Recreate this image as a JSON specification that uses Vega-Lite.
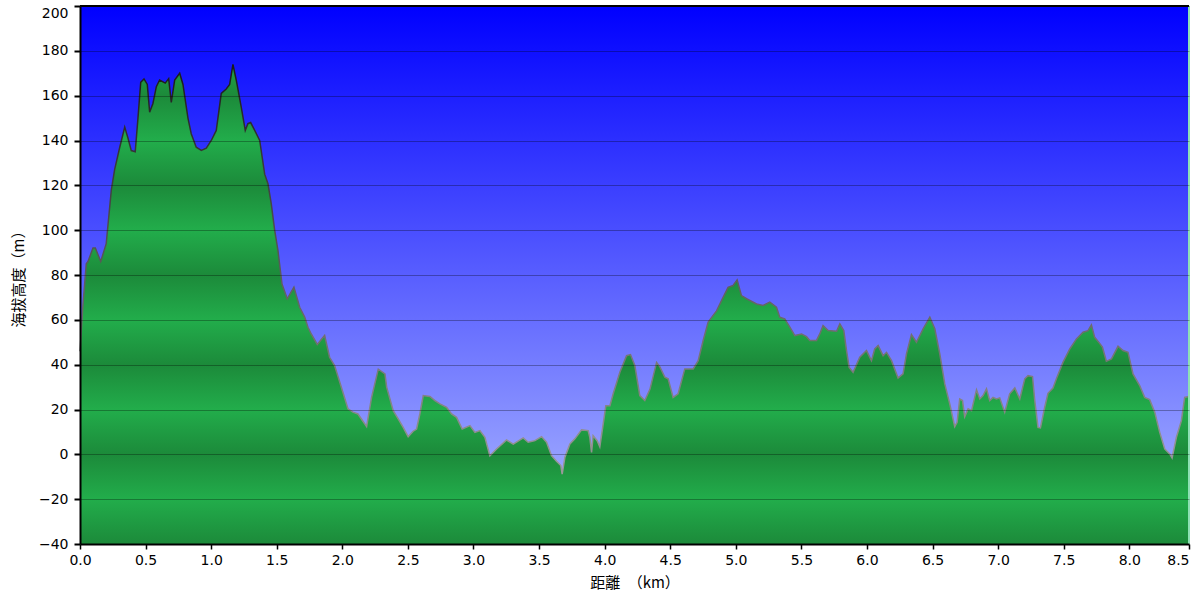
{
  "$schema": "https://vega.github.io/schema/vega-lite/v6.json",
  "width": 1109,
  "height": 538,
  "autosize": {"type": "none"},
  "padding": {"left": 80, "top": 6, "right": 6, "bottom": 57},
  "background": "#ffffff",
  "config": {"view": {"stroke": null}},
  "datasets": {
    "profile": [
      {"d": 0, "h": 46}, {"d": 0.023, "h": 67}, {"d": 0.048, "h": 85}, {"d": 0.061, "h": 86}, {"d": 0.099, "h": 92},
      {"d": 0.117, "h": 92}, {"d": 0.158, "h": 86}, {"d": 0.2, "h": 94}, {"d": 0.239, "h": 118}, {"d": 0.264, "h": 127},
      {"d": 0.303, "h": 137}, {"d": 0.341, "h": 146}, {"d": 0.366, "h": 141}, {"d": 0.391, "h": 135.5}, {"d": 0.421, "h": 135},
      {"d": 0.442, "h": 150}, {"d": 0.463, "h": 166}, {"d": 0.488, "h": 167.5}, {"d": 0.513, "h": 165}, {"d": 0.531, "h": 152.6},
      {"d": 0.556, "h": 156.5}, {"d": 0.582, "h": 164}, {"d": 0.607, "h": 167}, {"d": 0.65, "h": 165.6}, {"d": 0.676, "h": 167.6},
      {"d": 0.696, "h": 157}, {"d": 0.722, "h": 167}, {"d": 0.76, "h": 170}, {"d": 0.785, "h": 165}, {"d": 0.823, "h": 150},
      {"d": 0.848, "h": 143}, {"d": 0.886, "h": 137}, {"d": 0.925, "h": 135.6}, {"d": 0.963, "h": 136.6}, {"d": 1.001, "h": 140},
      {"d": 1.039, "h": 144.5}, {"d": 1.077, "h": 161}, {"d": 1.115, "h": 163}, {"d": 1.141, "h": 165}, {"d": 1.166, "h": 174},
      {"d": 1.191, "h": 167}, {"d": 1.229, "h": 155}, {"d": 1.26, "h": 144.5}, {"d": 1.28, "h": 147.5}, {"d": 1.301, "h": 148},
      {"d": 1.332, "h": 144.5}, {"d": 1.37, "h": 140}, {"d": 1.408, "h": 125}, {"d": 1.433, "h": 120.7}, {"d": 1.458, "h": 111.8},
      {"d": 1.484, "h": 100}, {"d": 1.509, "h": 91}, {"d": 1.54, "h": 76}, {"d": 1.58, "h": 69.4}, {"d": 1.631, "h": 74.6},
      {"d": 1.675, "h": 65.6}, {"d": 1.713, "h": 61.2}, {"d": 1.738, "h": 56.7}, {"d": 1.763, "h": 53.7}, {"d": 1.809, "h": 49},
      {"d": 1.865, "h": 53}, {"d": 1.903, "h": 43.3}, {"d": 1.941, "h": 39.6}, {"d": 1.992, "h": 30}, {"d": 2.043, "h": 20.3},
      {"d": 2.081, "h": 18.8}, {"d": 2.119, "h": 18}, {"d": 2.185, "h": 12.4}, {"d": 2.223, "h": 25.4}, {"d": 2.274, "h": 38},
      {"d": 2.325, "h": 35.9}, {"d": 2.338, "h": 30}, {"d": 2.388, "h": 19.5}, {"d": 2.426, "h": 15.8}, {"d": 2.464, "h": 12},
      {"d": 2.502, "h": 7.9}, {"d": 2.54, "h": 10.3}, {"d": 2.566, "h": 11.3}, {"d": 2.591, "h": 18}, {"d": 2.617, "h": 26.2},
      {"d": 2.668, "h": 25.8}, {"d": 2.706, "h": 24}, {"d": 2.744, "h": 22.5}, {"d": 2.795, "h": 21}, {"d": 2.833, "h": 18},
      {"d": 2.871, "h": 16.5}, {"d": 2.914, "h": 11.3}, {"d": 2.973, "h": 12.8}, {"d": 3.011, "h": 9.8}, {"d": 3.049, "h": 10.6},
      {"d": 3.087, "h": 7.6}, {"d": 3.125, "h": -0.6}, {"d": 3.176, "h": 2.4}, {"d": 3.252, "h": 6.4}, {"d": 3.303, "h": 4.6},
      {"d": 3.379, "h": 7.3}, {"d": 3.417, "h": 5.4}, {"d": 3.468, "h": 6.1}, {"d": 3.519, "h": 7.9}, {"d": 3.557, "h": 5.4},
      {"d": 3.595, "h": -0.6}, {"d": 3.633, "h": -3.1}, {"d": 3.666, "h": -5}, {"d": 3.676, "h": -8.8}, {"d": 3.697, "h": -1.3},
      {"d": 3.735, "h": 4.6}, {"d": 3.773, "h": 6.9}, {"d": 3.824, "h": 10.9}, {"d": 3.874, "h": 10.6}, {"d": 3.887, "h": 7.6},
      {"d": 3.9, "h": 0.9}, {"d": 3.912, "h": 8.3}, {"d": 3.943, "h": 6.1}, {"d": 3.963, "h": 3.4}, {"d": 3.989, "h": 13.6},
      {"d": 4.009, "h": 21.7}, {"d": 4.04, "h": 21.7}, {"d": 4.065, "h": 27}, {"d": 4.116, "h": 36.6}, {"d": 4.167, "h": 44},
      {"d": 4.197, "h": 44.5}, {"d": 4.23, "h": 39.6}, {"d": 4.268, "h": 26.2}, {"d": 4.306, "h": 24}, {"d": 4.345, "h": 29},
      {"d": 4.396, "h": 41}, {"d": 4.421, "h": 39}, {"d": 4.459, "h": 34.4}, {"d": 4.484, "h": 33.7}, {"d": 4.522, "h": 25.4},
      {"d": 4.56, "h": 27}, {"d": 4.611, "h": 38.1}, {"d": 4.675, "h": 38.1}, {"d": 4.713, "h": 41.8}, {"d": 4.751, "h": 50.8},
      {"d": 4.789, "h": 59}, {"d": 4.853, "h": 64}, {"d": 4.903, "h": 70}, {"d": 4.941, "h": 74.5}, {"d": 4.979, "h": 75.3},
      {"d": 5.01, "h": 77.8}, {"d": 5.043, "h": 70.8}, {"d": 5.082, "h": 69.4}, {"d": 5.158, "h": 67.1}, {"d": 5.208, "h": 66.4},
      {"d": 5.259, "h": 67.9}, {"d": 5.31, "h": 65.6}, {"d": 5.335, "h": 61.2}, {"d": 5.373, "h": 60.4}, {"d": 5.412, "h": 56.7},
      {"d": 5.45, "h": 53}, {"d": 5.501, "h": 53.7}, {"d": 5.539, "h": 52.5}, {"d": 5.564, "h": 50.8}, {"d": 5.615, "h": 50.8},
      {"d": 5.64, "h": 53.7}, {"d": 5.665, "h": 57.4}, {"d": 5.704, "h": 55.2}, {"d": 5.768, "h": 54.9}, {"d": 5.793, "h": 58.2},
      {"d": 5.823, "h": 55.2}, {"d": 5.844, "h": 46.3}, {"d": 5.864, "h": 38.8}, {"d": 5.894, "h": 36.6}, {"d": 5.945, "h": 43.3},
      {"d": 5.996, "h": 46.3}, {"d": 6.034, "h": 41.8}, {"d": 6.059, "h": 47}, {"d": 6.085, "h": 48.5}, {"d": 6.123, "h": 44},
      {"d": 6.149, "h": 45.5}, {"d": 6.187, "h": 41.8}, {"d": 6.237, "h": 34.1}, {"d": 6.275, "h": 35.9}, {"d": 6.301, "h": 44.8},
      {"d": 6.339, "h": 53.4}, {"d": 6.377, "h": 50}, {"d": 6.428, "h": 56}, {"d": 6.479, "h": 61.2}, {"d": 6.517, "h": 56},
      {"d": 6.555, "h": 44.8}, {"d": 6.593, "h": 31.4}, {"d": 6.631, "h": 22.5}, {"d": 6.669, "h": 12.4}, {"d": 6.687, "h": 14.3},
      {"d": 6.707, "h": 24.7}, {"d": 6.728, "h": 24}, {"d": 6.745, "h": 16.8}, {"d": 6.771, "h": 20.3}, {"d": 6.797, "h": 19.5},
      {"d": 6.835, "h": 28.8}, {"d": 6.86, "h": 24.7}, {"d": 6.885, "h": 26.2}, {"d": 6.911, "h": 29.2}, {"d": 6.936, "h": 24},
      {"d": 6.961, "h": 25.4}, {"d": 6.987, "h": 24.7}, {"d": 7.012, "h": 25.2}, {"d": 7.05, "h": 18.8}, {"d": 7.088, "h": 27},
      {"d": 7.127, "h": 29.6}, {"d": 7.165, "h": 24.7}, {"d": 7.203, "h": 33.7}, {"d": 7.228, "h": 35.1}, {"d": 7.262, "h": 34.7},
      {"d": 7.279, "h": 24}, {"d": 7.304, "h": 12}, {"d": 7.322, "h": 11.8}, {"d": 7.355, "h": 21}, {"d": 7.38, "h": 27.2},
      {"d": 7.418, "h": 29.6}, {"d": 7.444, "h": 33.7}, {"d": 7.494, "h": 41}, {"d": 7.546, "h": 47}, {"d": 7.597, "h": 51.5},
      {"d": 7.647, "h": 54.5}, {"d": 7.685, "h": 55.2}, {"d": 7.711, "h": 57.7}, {"d": 7.736, "h": 52.2}, {"d": 7.774, "h": 49.5},
      {"d": 7.795, "h": 47.8}, {"d": 7.825, "h": 41.5}, {"d": 7.864, "h": 42.6}, {"d": 7.914, "h": 48.2}, {"d": 7.952, "h": 46.3},
      {"d": 7.99, "h": 45.5}, {"d": 8.028, "h": 35.9}, {"d": 8.079, "h": 30.7}, {"d": 8.117, "h": 25.4}, {"d": 8.155, "h": 24.4},
      {"d": 8.194, "h": 18.8}, {"d": 8.232, "h": 9.8}, {"d": 8.27, "h": 2.4}, {"d": 8.308, "h": 0.2}, {"d": 8.326, "h": -1.6},
      {"d": 8.359, "h": 7.6}, {"d": 8.397, "h": 15}, {"d": 8.422, "h": 25.4}, {"d": 8.452, "h": 25.8}
    ]
  },
  "layer": [
    {
      "data": {"values": [{"top": 200, "bottom": -40}]},
      "mark": {
        "type": "rect",
        "fill": {"gradient": "linear", "x1": 0, "y1": 0, "x2": 0, "y2": 1,
          "stops": [{"offset": 0, "color": "#0000ff"}, {"offset": 1, "color": "#b0bcff"}]}
      },
      "encoding": {
        "x": {"datum": 0, "type": "quantitative", "scale": {"domain": [0, 8.455], "nice": false, "zero": false}},
        "x2": {"datum": 8.455},
        "y": {"field": "bottom", "type": "quantitative", "scale": {"domain": [-40, 200], "nice": false, "zero": false}},
        "y2": {"field": "top"}
      }
    },
    {
      "data": {"name": "profile"},
      "mark": {
        "type": "area",
        "interpolate": "linear",
        "fill": {"gradient": "linear", "x1": 0, "y1": 0, "x2": 0, "y2": 1,
          "stops": [
            {"offset": 0, "color": "#20a346"},
            {"offset": 0.0654, "color": "#1c8a3a"},
            {"offset": 0.1589, "color": "#22ad4b"},
            {"offset": 0.2523, "color": "#1c8a3a"},
            {"offset": 0.3458, "color": "#22ad4b"},
            {"offset": 0.4393, "color": "#1c8a3a"},
            {"offset": 0.5327, "color": "#22ad4b"},
            {"offset": 0.6262, "color": "#1c8a3a"},
            {"offset": 0.7196, "color": "#22ad4b"},
            {"offset": 0.8131, "color": "#1c8a3a"},
            {"offset": 0.9065, "color": "#22ad4b"},
            {"offset": 1, "color": "#1c8a3a"}
          ]}
      },
      "encoding": {
        "x": {"field": "d", "type": "quantitative"},
        "y": {"field": "h", "type": "quantitative"},
        "y2": {"datum": -40}
      }
    },
    {
      "data": {"name": "profile"},
      "mark": {
        "type": "line",
        "interpolate": "linear",
        "strokeWidth": 1.5,
        "stroke": {"gradient": "linear", "x1": 0, "y1": 0, "x2": 0, "y2": 1,
          "stops": [{"offset": 0, "color": "#1a1a1a"}, {"offset": 1, "color": "#9a9a9a"}]}
      },
      "encoding": {
        "x": {"field": "d", "type": "quantitative"},
        "y": {"field": "h", "type": "quantitative"}
      }
    },
    {
      "data": {"values": [{"edge": 8.455}]},
      "mark": {"type": "rule", "color": "#8ee0b4", "strokeWidth": 2},
      "encoding": {"x": {"field": "edge", "type": "quantitative"}}
    },
    {
      "data": {"values": [{"top": 200}]},
      "mark": {"type": "rule", "color": "#000000", "strokeWidth": 2},
      "encoding": {"y": {"field": "top", "type": "quantitative"}}
    },
    {
      "data": {"name": "profile"},
      "mark": {"type": "point", "opacity": 0},
      "encoding": {
        "x": {
          "field": "d", "type": "quantitative",
          "axis": {
            "values": [0, 0.5, 1, 1.5, 2, 2.5, 3, 3.5, 4, 4.5, 5, 5.5, 6, 6.5, 7, 7.5, 8, 8.455],
            "labelExpr": "datum.value > 8.2 ? '8.5' : format(datum.value, '.1f')",
            "labelAlign": {"condition": {"test": "datum.value > 8.2", "value": "right"}, "value": "center"},
            "labelFlush": false,
            "labelFont": "DejaVu Sans", "labelFontSize": 14, "labelColor": "#000000", "labelPadding": 4,
            "domainColor": "#000000", "domainWidth": 2,
            "tickColor": "#000000", "tickSize": 5, "tickWidth": 1.5,
            "grid": false,
            "title": "距離　（km）",
            "titleFont": "Noto Sans CJK JP", "titleFontSize": 15, "titleFontWeight": "normal", "titleColor": "#000000",
            "titlePadding": 8,
            "zindex": 1
          }
        },
        "y": {
          "field": "h", "type": "quantitative",
          "axis": {
            "values": [-40, -20, 0, 20, 40, 60, 80, 100, 120, 140, 160, 180, 200],
            "format": "d",
            "labelBaseline": {"condition": {"test": "datum.value >= 200", "value": "top"}, "value": "middle"},
            "labelFlush": false,
            "labelFont": "DejaVu Sans", "labelFontSize": 14, "labelColor": "#000000", "labelPadding": 6,
            "domainColor": "#000000", "domainWidth": 2,
            "tickColor": "#000000", "tickSize": 6, "tickWidth": 2,
            "grid": true, "gridColor": "#000000", "gridOpacity": 0.3, "gridWidth": 1,
            "title": "海拔高度（m）",
            "titleFont": "Noto Sans CJK JP", "titleFontSize": 15, "titleFontWeight": "normal", "titleColor": "#000000",
            "titlePadding": 12,
            "zindex": 1
          }
        }
      }
    }
  ]
}
